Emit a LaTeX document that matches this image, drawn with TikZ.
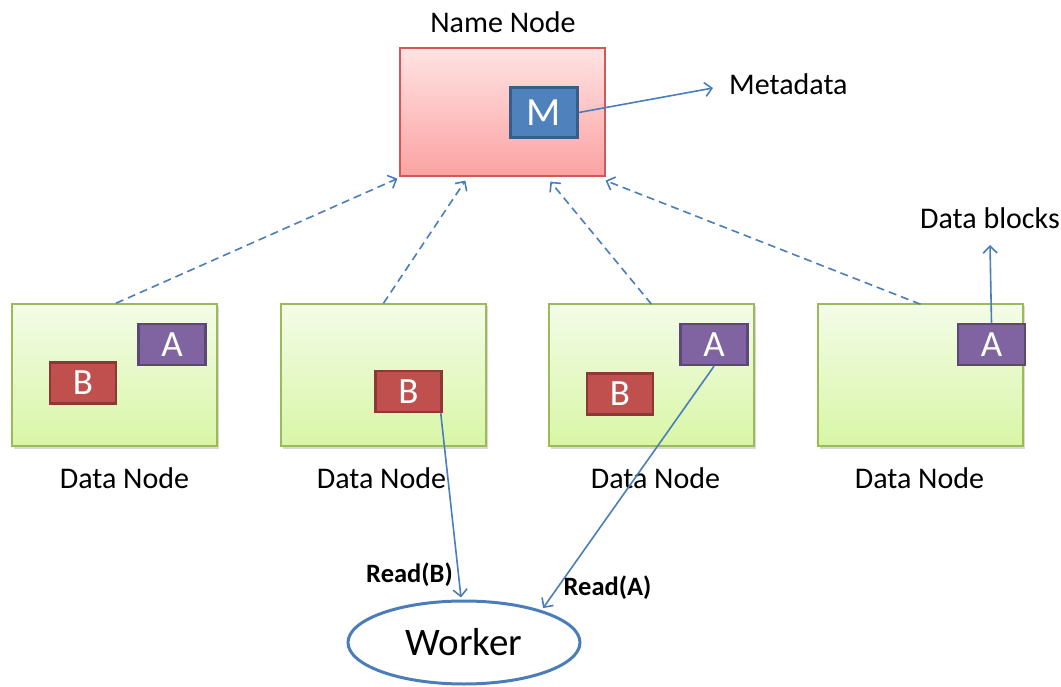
\documentclass[tikz,border=0pt]{standalone}
\usepackage{fontspec}
\setmainfont{Carlito}
\usetikzlibrary{arrows.meta,shadows,calc,shapes.geometric}

\definecolor{dntop}{HTML}{F4FCE8}
\definecolor{dnbot}{HTML}{D8F6A6}
\definecolor{dnline}{HTML}{9BBB59}
\definecolor{nntop}{HTML}{FFE3E3}
\definecolor{nnbot}{HTML}{FBA2A2}
\definecolor{nnline}{HTML}{D45755}
\definecolor{blkB}{HTML}{C0504D}
\definecolor{blkBline}{HTML}{8C3836}
\definecolor{blkA}{HTML}{8064A2}
\definecolor{blkAline}{HTML}{5C4776}
\definecolor{blkM}{HTML}{4F81BD}
\definecolor{blkMline}{HTML}{385D8A}
\definecolor{link}{HTML}{4A7EBB}

\tikzset{
  namebox/.style={draw=nnline, line width=1.2pt, top color=nntop, bottom color=nnbot,
    minimum width=205pt, minimum height=128pt, inner sep=0pt},
  databox/.style={draw=dnline, line width=1.5pt, top color=dntop, bottom color=dnbot,
    minimum width=205pt, minimum height=142pt, inner sep=0pt,
    drop shadow={shadow xshift=1.5pt, shadow yshift=-2.5pt, opacity=0.25, fill=black!60}},
  block/.style={line width=2.5pt, minimum width=66pt, minimum height=41pt, inner sep=0pt,
    text=white, font=\fontsize{37}{40}\selectfont},
  blockA/.style={block, draw=blkAline, fill=blkA, minimum width=67pt},
  blockB/.style={block, draw=blkBline, fill=blkB},
  blockM/.style={block, draw=blkMline, fill=blkM, minimum width=67pt, minimum height=50pt,
    font=\fontsize{40}{42}\selectfont},
  caption/.style={font=\fontsize{30}{34}\selectfont, inner sep=0pt},
  readlabel/.style={font=\bfseries\fontsize{26.5}{30}\selectfont, inner sep=0pt},
  arr/.style={draw=link, line width=1.6pt, -{Straight Barb[length=7pt,width=14pt,line width=1.6pt]}},
  heartbeat/.style={arr, dashed, dash pattern=on 8pt off 5pt},
  workerbox/.style={ellipse, draw=link, line width=3pt, minimum width=232pt, minimum height=83pt,
    inner sep=0pt, font=\fontsize{39}{42}\selectfont}
}

\begin{document}
\begin{tikzpicture}[x=1pt,y=-1pt]
  \useasboundingbox (0,0) rectangle (1061,687);

  % name node with its metadata block
  \node[namebox] (nn) at (502.5,112) {};
  \node[caption] (nnlabel) at (503,22) {Name Node};
  \node[blockM] (m) at (544,112.5) {M};
  \coordinate (metaend) at (713,88);
  \node[caption, anchor=west] (meta) at (729,84) {Metadata};

  % data nodes
  \node[databox] (dn1) at (114.5,375) {};
  \node[databox] (dn2) at (383.5,375) {};
  \node[databox] (dn3) at (651.5,375) {};
  \node[databox] (dn4) at (920.5,375) {};

  \node[caption] (dl1) at (124.5,478) {Data Node};
  \node[caption] (dl2) at (381.5,478) {Data Node};
  \node[caption] (dl3) at (655.5,478) {Data Node};
  \node[caption] (dl4) at (919.5,478) {Data Node};

  % blocks stored on the data nodes
  \node[blockB] (b1) at (83,383) {B};
  \node[blockA] (a1) at (172,344.5) {A};
  \node[blockB] (b2) at (408.5,391.5) {B};
  \node[blockA] (a3) at (714,344.5) {A};
  \node[blockB] (b3) at (620,394) {B};
  \node[blockA] (a4) at (991.5,344.5) {A};

  \coordinate (blocksend) at (990,245);
  \node[caption] (blocks) at (990,218) {Data blocks};

  % worker
  \node[workerbox] (w) at (464,642.5) {Worker};

  % heartbeats from data nodes to the name node
  \draw[heartbeat] ($(dn1.north)+(1.5,0)$) -- ($(nn.south west)+(-2,2)$);
  \draw[heartbeat] (dn2.north) -- ($(nn.south west)+(66,4)$);
  \draw[heartbeat] ($(dn3.north)+(0,1)$) -- ($(nn.south west)+(151,5)$);
  \draw[heartbeat] ($(dn4.north)+(0,1)$) -- ($(nn.south east)+(0,4)$);

  % metadata and data block pointers
  \draw[arr] (m.east) -- (metaend);
  \draw[arr] (a4.north) -- (blocksend);

  % reads by the worker
  \draw[arr] ($(b2.south east)+(-2,0)$) -- ($(w.north)+(-3,-2)$);
  \draw[arr] (a3.south) -- ($(w.north east)+(-4,-4)$);
  \node[readlabel] (rb) at (409.5,575) {Read(B)};
  \node[readlabel] (ra) at (607.5,588) {Read(A)};
\end{tikzpicture}
\end{document}
